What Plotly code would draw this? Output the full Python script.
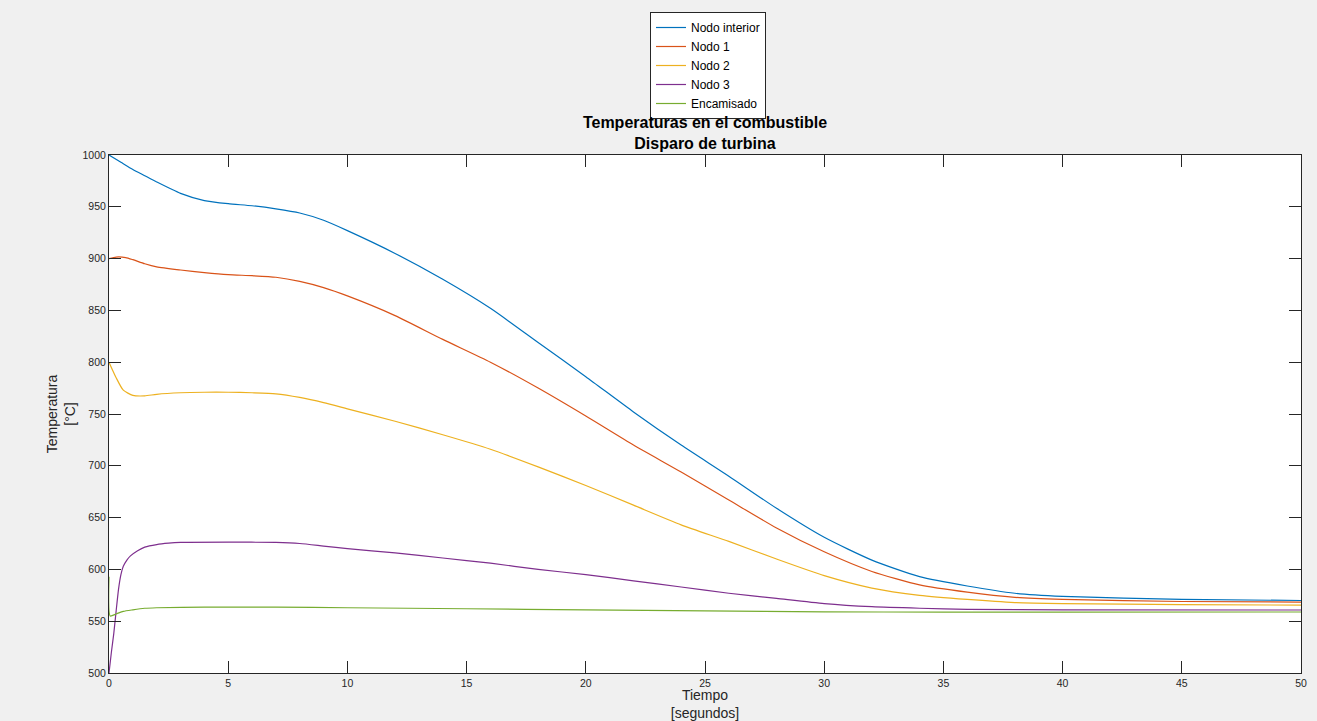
import plotly.graph_objects as go

# ---- data ----
x_interior = [0, 0.5, 1, 1.5, 2, 3, 4, 5, 6, 7, 8, 9, 10, 12, 14, 16, 18, 20, 22, 24, 26, 28, 30, 32, 34, 36, 38, 40, 45, 50]
y_interior = [1000, 993, 986, 980, 974, 963, 956, 953, 951, 948, 944, 937, 927, 905, 880, 852, 819, 786, 752, 720, 690, 659, 631, 609, 593, 584, 577, 574, 571, 570]

x_nodo1 = [0, 0.3, 0.7, 1, 1.5, 2, 3, 4, 5, 6, 7, 8, 9, 10, 12, 14, 16, 18, 20, 22, 24, 26, 28, 30, 32, 34, 36, 38, 40, 45, 50]
y_nodo1 = [900, 901.5, 901, 899, 895, 892, 889, 886.5, 884.5, 883.5, 882, 878, 872, 864, 845, 822, 800, 775, 748, 720, 694, 667, 640, 617, 598, 585, 578, 573, 571, 569, 568.5]

x_nodo2 = [0, 0.3, 0.6, 1, 1.5, 2, 3, 4, 5, 6, 7, 8, 9, 10, 12, 14, 16, 18, 20, 22, 24, 26, 28, 30, 32, 34, 36, 38, 40, 45, 50]
y_nodo2 = [800, 785, 773, 768, 767.5, 769, 770.5, 771, 771, 770.5, 769.5, 766, 761, 755, 743, 730, 716, 699, 681, 662, 643, 627, 610, 594, 582, 575, 571, 568, 567, 566, 565.5]

x_nodo3 = [0, 0.1, 0.2, 0.3, 0.4, 0.5, 0.6, 0.75, 0.9, 1.2, 1.5, 2, 2.5, 3, 5, 7, 8, 9, 10, 12, 14, 16, 18, 20, 22, 24, 26, 28, 30, 32, 34, 36, 40, 50]
y_nodo3 = [500, 520, 538, 560, 581, 595, 603, 609, 613, 618, 621.5, 624, 625.3, 626, 626.3, 626, 625, 622.5, 620, 616, 611, 606, 600, 595, 589, 583, 577, 572, 567, 564, 562.5, 561.5, 561, 560.8]

x_encam = [0, 0.05, 0.3, 0.6, 1, 1.5, 2, 4, 7, 10, 15, 20, 25, 30, 35, 40, 50]
y_encam = [593, 555, 557, 559.5, 561, 562.5, 563, 563.5, 563.5, 563, 562, 561, 560, 559, 558.8, 558.8, 558.9]

series_names = ["Nodo interior", "Nodo 1", "Nodo 2", "Nodo 3", "Encamisado"]
series_colors = ["#0072BD", "#D95319", "#EDB120", "#7E2F8E", "#77AC30"]
x_ticks = [0, 5, 10, 15, 20, 25, 30, 35, 40, 45, 50]
y_ticks = [500, 550, 600, 650, 700, 750, 800, 850, 900, 950, 1000]

FONT = "Liberation Sans, Arial, Helvetica, sans-serif"
AX = "#262626"

fig = go.Figure()
for name, color, xs, ys in zip(
    series_names, series_colors,
    [x_interior, x_nodo1, x_nodo2, x_nodo3, x_encam],
    [y_interior, y_nodo1, y_nodo2, y_nodo3, y_encam],
):
    fig.add_trace(go.Scatter(x=xs, y=ys, mode="lines", name=name,
                             line=dict(color=color, width=1.2, shape="spline", smoothing=0.6)))

axis_common = dict(
    showline=True, linecolor=AX, linewidth=1, mirror="ticks",
    ticks="inside", ticklen=12, tickcolor=AX, tickwidth=1,
    showgrid=False, zeroline=False, automargin=False,
    tickfont=dict(family=FONT, size=10.5, color=AX),
)

fig.update_layout(
    width=1317, height=721, autosize=False,
    paper_bgcolor="#f0f0f0", plot_bgcolor="white",
    margin=dict(l=109, r=16, t=155, b=48, autoexpand=False),
    font=dict(family=FONT, color=AX),
    title=dict(
        text="<b>Temperaturas en el combustible</b><br><b>Disparo de turbina</b>",
        font=dict(family=FONT, size=16, color="black"),
        x=0.5, xref="paper", xanchor="center",
        y=1 - 128 / 721, yref="container", yanchor="middle",
    ),
    xaxis=dict(
        range=[0, 50], tickvals=x_ticks, ticktext=[str(v) for v in x_ticks],
        title=dict(text="Tiempo<br>[segundos]", font=dict(family=FONT, size=14, color=AX), standoff=3),
        **axis_common,
    ),
    yaxis=dict(
        range=[500, 1000], tickvals=y_ticks, ticktext=[str(v) for v in y_ticks],
        title=dict(text="Temperatura<br>[°C]", font=dict(family=FONT, size=14, color=AX), standoff=3),
        **axis_common,
    ),
    legend=dict(
        x=0.5025, xanchor="center", y=(673 - 12) / 518, yanchor="top",
        bgcolor="white", bordercolor=AX, borderwidth=1,
        font=dict(family=FONT, size=12, color="black"),
        tracegroupgap=0, itemwidth=30,
    ),
    showlegend=True,
)

fig.write_html(
    "out.html",
    config={"responsive": False, "displayModeBar": False},
    post_script="document.body.style.margin='0';document.body.style.overflow='hidden';",
)
